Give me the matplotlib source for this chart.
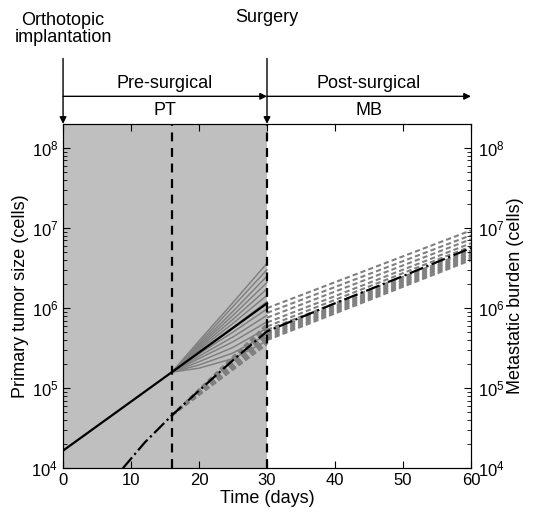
import numpy as np
import matplotlib
matplotlib.use("Agg")
import matplotlib.pyplot as plt

plt.rcParams['font.family'] = ['Liberation Sans', 'DejaVu Sans']
plt.rcParams['mathtext.fontset'] = 'custom'
plt.rcParams['mathtext.rm'] = 'Liberation Sans'
plt.rcParams['mathtext.it'] = 'Liberation Sans:italic'

# primary tumour (black solid), log10 cells
pt_t = [0, 8, 16, 23, 30]
pt_log10 = [4.22, 4.71, 5.20, 5.63, 6.06]

# metastatic burden (black dash-dot), log10 cells
mb_t = [8.8, 12, 16, 20, 25, 30, 40, 50, 60]
mb_log10 = [4.00, 4.32, 4.66, 4.97, 5.35, 5.71, 6.06, 6.40, 6.75]

# grey primary tumour fan after day 16
fan_t = [16, 20, 25, 30]
fan_log10 = [
    [5.20, 5.59, 6.07, 6.56],
    [5.20, 5.56, 6.02, 6.48],
    [5.20, 5.54, 5.96, 6.40],
    [5.20, 5.52, 5.91, 6.32],
    [5.20, 5.50, 5.86, 6.24],
    [5.20, 5.48, 5.81, 6.16],
    [5.20, 5.46, 5.76, 6.08],
    [5.20, 5.43, 5.70, 5.99],
    [5.20, 5.40, 5.64, 5.91],
    [5.20, 5.37, 5.58, 5.83],
    [5.20, 5.33, 5.51, 5.75],
    [5.20, 5.29, 5.44, 5.67],
    [5.20, 5.25, 5.37, 5.59],
]

# grey metastatic burden curves: pre-surgery (day 16 -> 30) and post-surgery (day 30 -> 60)
mbg_pre_t = [16, 30]
mbg_pre_log10 = [
    [4.66, 5.80], [4.66, 5.77], [4.66, 5.74], [4.66, 5.71], [4.66, 5.68],
    [4.66, 5.66], [4.66, 5.64], [4.66, 5.62], [4.66, 5.60], [4.66, 5.58],
    [4.66, 5.56], [4.66, 5.55],
]
mbg_post_t = [30, 60]
mbg_post_log10 = [
    [6.00, 6.97], [5.94, 6.91], [5.88, 6.86], [5.82, 6.81], [5.77, 6.77],
    [5.73, 6.72], [5.70, 6.70], [5.68, 6.68], [5.66, 6.66], [5.64, 6.64],
    [5.62, 6.62], [5.60, 6.60],
]

t_implant = 0
t_resect = 16
t_surgery = 30

grey = '#808080'

fig = plt.figure(figsize=(5.58, 5.14), dpi=100)
ax = fig.add_axes([0.113, 0.089, 0.731, 0.670])

ax.axvspan(t_implant, t_surgery, color='#bfbfbf', zorder=0, lw=0)

for row in fan_log10:
    ax.plot(fan_t, 10 ** np.array(row), color=grey, lw=1.1, zorder=2)
for row in mbg_pre_log10:
    ax.plot(mbg_pre_t, 10 ** np.array(row), color=grey, lw=1.5, dashes=(2.5, 1.5), zorder=2)
for row in mbg_post_log10:
    ax.plot(mbg_post_t, 10 ** np.array(row), color=grey, lw=1.5, dashes=(2.5, 1.5), zorder=2)

ax.plot(pt_t, 10 ** np.array(pt_log10), color='k', lw=1.6, zorder=3)
ax.plot(mb_t, 10 ** np.array(mb_log10), color='k', lw=1.6, ls='-.', zorder=3)

for tv in [t_resect, t_surgery]:
    ax.axvline(tv, color='k', lw=1.6, dashes=(4, 3), zorder=4)

ax.set_xlim(0, 60)
ax.set_yscale('log')
ax.set_ylim(1e4, 2e8)
ax.set_yticks([1e4, 1e5, 1e6, 1e7, 1e8])
ax.set_xticks([0, 10, 20, 30, 40, 50, 60])
ax.tick_params(which='both', direction='in', top=True, labelsize=12)
ax.tick_params(which='major', length=5)
ax.tick_params(which='minor', length=3)
ax.set_xlabel('Time (days)', fontsize=13, labelpad=1)
ax.set_ylabel('Primary tumor size (cells)', fontsize=13, labelpad=2)

ax2 = ax.twinx()
ax2.set_yscale('log')
ax2.set_ylim(1e4, 2e8)
ax2.set_yticks([1e4, 1e5, 1e6, 1e7, 1e8])
ax2.tick_params(which='both', direction='in', labelsize=12, pad=5)
ax2.tick_params(which='major', length=5)
ax2.tick_params(which='minor', length=3)
ax2.set_ylabel('Metastatic burden (cells)', fontsize=13, labelpad=2)

# annotations above the axes
tr = ax.get_xaxis_transform()
arrow = dict(arrowstyle='-|>', color='k', lw=1, mutation_scale=10, shrinkA=0, shrinkB=0)
for tv in [t_implant, t_surgery]:
    ax.annotate('', xy=(tv, 1.0), xytext=(tv, 1.19), xycoords=tr, textcoords=tr,
                arrowprops=arrow, annotation_clip=False)
ax.annotate('', xy=(t_surgery, 1.08), xytext=(t_implant, 1.08), xycoords=tr, textcoords=tr,
            arrowprops=arrow, annotation_clip=False)
ax.annotate('', xy=(60, 1.08), xytext=(t_surgery, 1.08), xycoords=tr, textcoords=tr,
            arrowprops=arrow, annotation_clip=False)

ax.text(15, 1.118, 'Pre-surgical', transform=tr, ha='center', va='center', fontsize=13)
ax.text(45, 1.118, 'Post-surgical', transform=tr, ha='center', va='center', fontsize=13)
ax.text(15, 1.038, 'PT', transform=tr, ha='center', va='center', fontsize=13)
ax.text(45, 1.038, 'MB', transform=tr, ha='center', va='center', fontsize=13)
ax.text(t_implant, 1.275, 'Orthotopic\nimplantation', transform=tr, ha='center', va='center',
        fontsize=13, linespacing=1.05)
ax.text(t_surgery, 1.31, 'Surgery', transform=tr, ha='center', va='center', fontsize=13)

fig.savefig('out.png', dpi=100)
